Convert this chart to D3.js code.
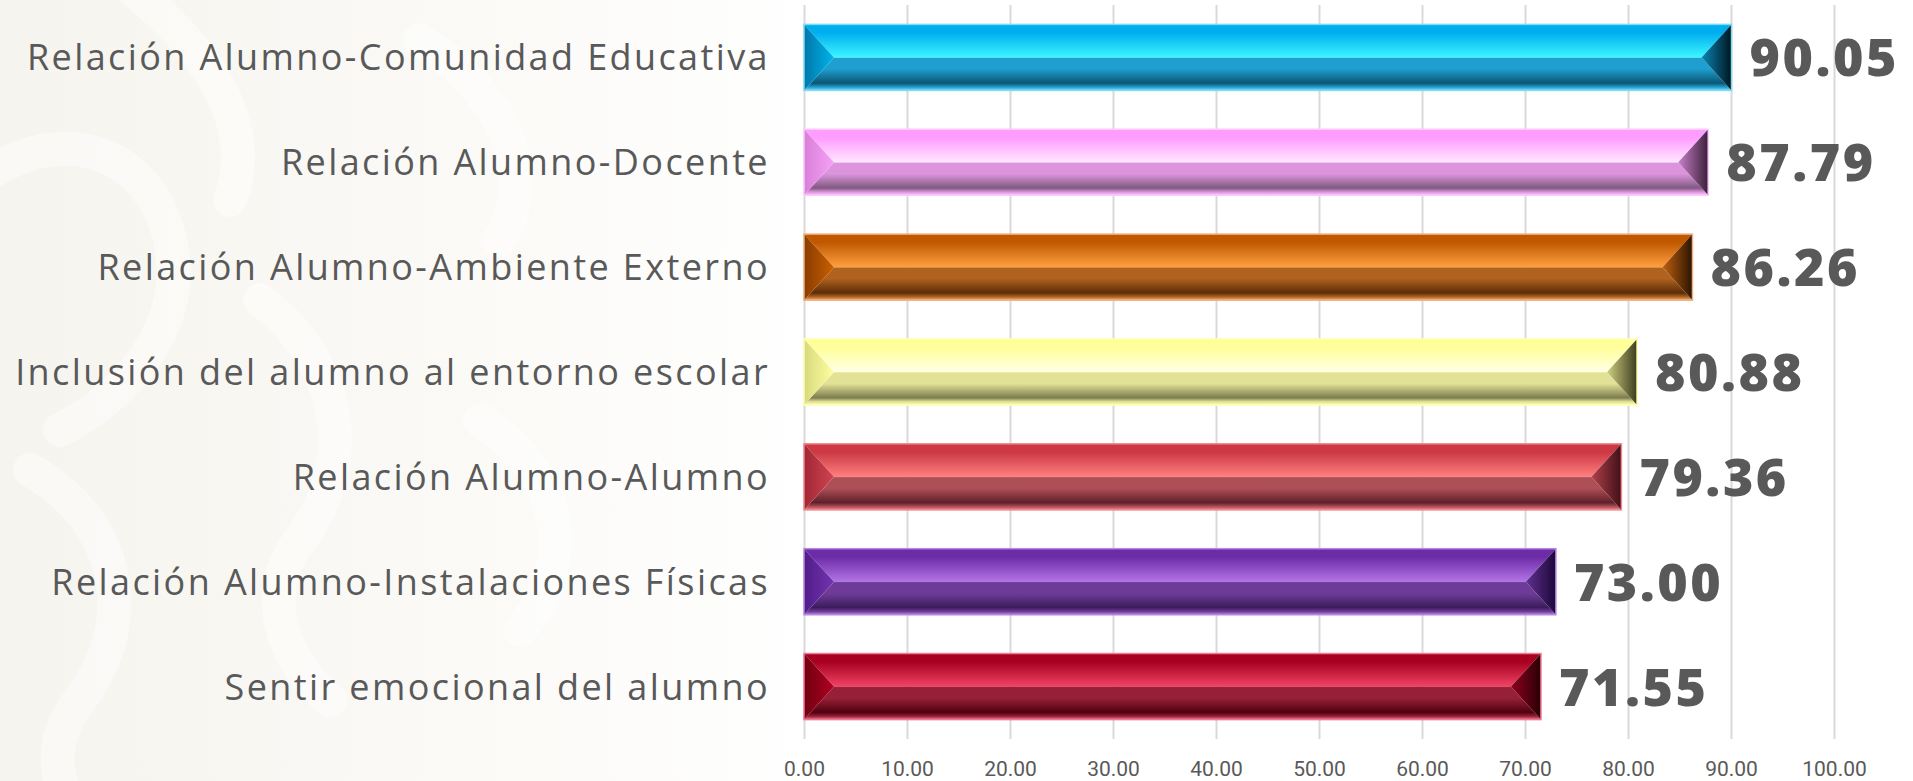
<!DOCTYPE html>
<html>
<head>
<meta charset="utf-8">
<script src="https://cdn.jsdelivr.net/npm/d3@7"></script>
<style>
  html, body { margin: 0; padding: 0; background: #fff; }
  svg { display: block; }
</style>
</head>
<body>
<svg width="1913" height="781"></svg>
<script>
// datos del grafico
var categorias = [
    "Relación Alumno-Comunidad Educativa",
    "Relación Alumno-Docente",
    "Relación Alumno-Ambiente Externo",
    "Inclusión del alumno al entorno escolar",
    "Relación Alumno-Alumno",
    "Relación Alumno-Instalaciones Físicas",
    "Sentir emocional del alumno"
];
var valores = [90.05, 87.79, 86.26, 80.88, 79.36, 73.00, 71.55];
var ticks = [0, 10, 20, 30, 40, 50, 60, 70, 80, 90, 100];

// colores de cada barra (borde, arriba, brillo, mitad abajo, oscuro, lado izq, lado der)
var paleta = [
    {edge: "#7fdcf5", top: "#00aeef", hi: "#3ef6ff", bmid: "#1e9fd0", bdark: "#0b5573", l0: "#0077aa", l1: "#00b4ea", r0: "#0a86b5", r1: "#00151f"},
    {edge: "#ffc8ff", top: "#ff9cff", hi: "#ffe6ff", bmid: "#dc94dc", bdark: "#7f5a80", l0: "#d880d8", l1: "#f7a0f7", r0: "#c880c8", r1: "#3a203a"},
    {edge: "#f0b080", top: "#c05800", hi: "#ffa040", bmid: "#b0621e", bdark: "#5a2c08", l0: "#8a3c00", l1: "#c86000", r0: "#c06010", r1: "#2a1400"},
    {edge: "#ffffb0", top: "#ffff9a", hi: "#ffffe6", bmid: "#e2e296", bdark: "#7c7c50", l0: "#d8d880", l1: "#ffff9e", r0: "#d0d080", r1: "#3c3c20"},
    {edge: "#f08890", top: "#cc3844", hi: "#ff8080", bmid: "#ae4e56", bdark: "#5e2028", l0: "#a02834", l1: "#d04450", r0: "#b04048", r1: "#401018"},
    {edge: "#b888e0", top: "#6c2ca8", hi: "#b274e6", bmid: "#6e3c98", bdark: "#3c1c5c", l0: "#501c88", l1: "#7434b0", r0: "#603090", r1: "#1c0838"},
    {edge: "#f07890", top: "#a80020", hi: "#f04464", bmid: "#962038", bdark: "#500010", l0: "#700010", l1: "#b00020", r0: "#900020", r1: "#280004"}
];

var svg = d3.select("svg"),
    width = +svg.attr("width"),
    height = +svg.attr("height"),
    margin = {top: 5, right: 79, bottom: 42, left: 804};

var defs = svg.append("defs");

// fondo con marca de agua tenue
var fondo = defs.append("linearGradient").attr("id", "fondo")
    .attr("x1", 0).attr("x2", 1).attr("y1", 0).attr("y2", 0);
fondo.append("stop").attr("offset", 0).attr("stop-color", "#f6f4ee");
fondo.append("stop").attr("offset", 0.6).attr("stop-color", "#fbfaf7");
fondo.append("stop").attr("offset", 1).attr("stop-color", "#ffffff");

svg.append("rect").attr("width", width).attr("height", height).attr("fill", "#fff");
svg.append("rect").attr("width", 820).attr("height", height).attr("fill", "url(#fondo)");

var swirls = [
    "M-20,180 C60,120 150,150 170,240 C190,330 120,400 60,430",
    "M30,470 C120,520 140,620 80,700 C40,750 60,800 90,830",
    "M120,-20 C200,40 260,120 230,200",
    "M260,300 C340,360 360,460 300,540 C260,590 280,660 330,700",
    "M420,40 C500,90 540,170 500,240",
    "M480,420 C560,470 580,560 520,630"
];
svg.append("g").selectAll("path").data(swirls).enter().append("path")
    .attr("d", function(d) { return d; })
    .attr("fill", "none")
    .attr("stroke", "#ffffff")
    .attr("stroke-width", 34)
    .attr("stroke-linecap", "round")
    .attr("opacity", 0.45);

var x = d3.scaleLinear().domain([0, 100]).range([margin.left, width - margin.right]);
var y = d3.scaleBand().domain(categorias)
    .range([margin.top, height - margin.bottom])
    .paddingInner(0.37).paddingOuter(0.185);

// rejilla y etiquetas del eje x
var ejeX = svg.append("g")
    .attr("transform", "translate(0," + (height - margin.bottom) + ")")
    .call(d3.axisBottom(x).tickValues(ticks).tickFormat(d3.format(".2f"))
        .tickSize(-(height - margin.bottom - margin.top)).tickPadding(22));
ejeX.select(".domain").remove();
ejeX.selectAll("line").attr("stroke", "#d9d9d9").attr("stroke-width", 2);
ejeX.selectAll("text")
    .attr("fill", "#595959")
    .style("font-family", "Roboto, 'Liberation Sans', sans-serif")
    .style("font-size", "21px");

// etiquetas de categorias
var ejeY = svg.append("g")
    .attr("transform", "translate(" + margin.left + ",0)")
    .call(d3.axisLeft(y).tickSize(0).tickPadding(34));
ejeY.select(".domain").remove();
ejeY.selectAll("text")
    .attr("fill", "#595959")
    .attr("dy", "0.36em")
    .style("font-family", "'Open Sans', 'Noto Sans', sans-serif")
    .style("font-size", "36px")
    .style("letter-spacing", "2.4px");

// gradientes por barra
paleta.forEach(function(p, i) {
    var gt = defs.append("linearGradient").attr("id", "top" + i)
        .attr("x1", 0).attr("x2", 0).attr("y1", 0).attr("y2", 1);
    gt.append("stop").attr("offset", 0).attr("stop-color", p.top);
    gt.append("stop").attr("offset", 0.25).attr("stop-color", p.top);
    gt.append("stop").attr("offset", 1).attr("stop-color", p.hi);

    var gb = defs.append("linearGradient").attr("id", "bot" + i)
        .attr("x1", 0).attr("x2", 0).attr("y1", 0).attr("y2", 1);
    gb.append("stop").attr("offset", 0).attr("stop-color", p.bmid);
    gb.append("stop").attr("offset", 0.35).attr("stop-color", p.bmid);
    gb.append("stop").attr("offset", 0.78).attr("stop-color", p.bdark);
    gb.append("stop").attr("offset", 0.9).attr("stop-color", p.bmid);
    gb.append("stop").attr("offset", 1).attr("stop-color", p.edge);

    var gl = defs.append("linearGradient").attr("id", "izq" + i)
        .attr("x1", 0).attr("x2", 1).attr("y1", 0).attr("y2", 0);
    gl.append("stop").attr("offset", 0).attr("stop-color", p.l0);
    gl.append("stop").attr("offset", 1).attr("stop-color", p.l1);

    var gr = defs.append("linearGradient").attr("id", "der" + i)
        .attr("x1", 0).attr("x2", 1).attr("y1", 0).attr("y2", 0);
    gr.append("stop").attr("offset", 0).attr("stop-color", p.r0);
    gr.append("stop").attr("offset", 1).attr("stop-color", p.r1);
});

var datos = categorias.map(function(c, i) { return {area: c, value: valores[i], i: i}; });
var bisel = 30;

var barras = svg.append("g").selectAll(".barra")
    .data(datos)
    .enter().append("g")
    .attr("class", "barra");

var pts = function(a) { return a.map(function(p) { return p.join(","); }).join(" "); };

barras.each(function(d) {
    var g = d3.select(this),
        x0 = x(0), x1 = x(d.value),
        y0 = y(d.area), y1 = y0 + y.bandwidth(), ym = (y0 + y1) / 2;

    g.append("polygon").attr("points", pts([[x0, y0], [x1, y0], [x1 - bisel, ym], [x0 + bisel, ym]]))
        .attr("fill", "url(#top" + d.i + ")");
    g.append("polygon").attr("points", pts([[x0 + bisel, ym], [x1 - bisel, ym], [x1, y1], [x0, y1]]))
        .attr("fill", "url(#bot" + d.i + ")");
    g.append("polygon").attr("points", pts([[x0, y0], [x0 + bisel, ym], [x0, y1]]))
        .attr("fill", "url(#izq" + d.i + ")");
    g.append("polygon").attr("points", pts([[x1, y0], [x1, y1], [x1 - bisel, ym]]))
        .attr("fill", "url(#der" + d.i + ")");
    g.append("line").attr("x1", x0 + bisel).attr("x2", x1 - bisel).attr("y1", ym).attr("y2", ym)
        .attr("stroke", paleta[d.i].hi).attr("stroke-width", 1).attr("opacity", 0.6);
    g.append("rect").attr("x", x0).attr("y", y0).attr("width", x1 - x0).attr("height", y1 - y0)
        .attr("fill", "none").attr("stroke", paleta[d.i].edge).attr("stroke-width", 1.5);
});

// valores
barras.append("text")
    .text(function(d) { return d.value.toFixed(2); })
    .attr("x", function(d) { return x(d.value) + 18; })
    .attr("y", function(d) { return y(d.area) + y.bandwidth() / 2 + 19; })
    .attr("fill", "#595959")
    .style("font-family", "'Open Sans', 'Noto Sans', sans-serif")
    .style("font-weight", "800")
    .style("font-size", "52px")
    .style("letter-spacing", "2.5px");
</script>
</body>
</html>
